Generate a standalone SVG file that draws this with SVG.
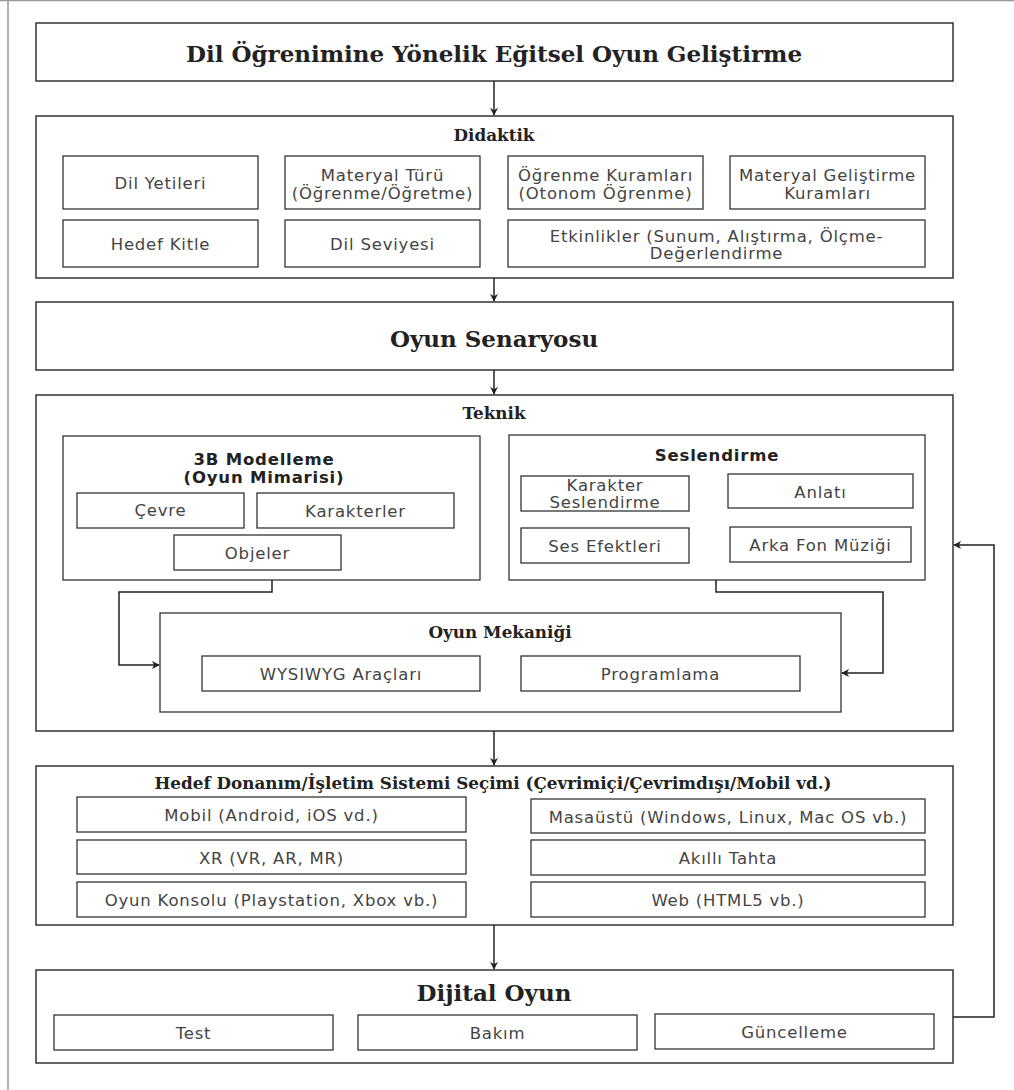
<svg xmlns="http://www.w3.org/2000/svg" width="1014" height="1090" viewBox="0 0 1014 1090">
<style>
.frame{fill:none;stroke:#999;stroke-width:1.5}
.box{fill:#fff;stroke:#333;stroke-width:1.5}
.inner{fill:#fff;stroke:#333;stroke-width:1.3}
.t{font-family:"DejaVu Sans",Verdana,sans-serif;font-size:16.5px;letter-spacing:0.8px;fill:#444;text-anchor:middle;dominant-baseline:central}
.tb{font-family:"DejaVu Sans",Verdana,sans-serif;font-size:16.5px;letter-spacing:0.8px;font-weight:bold;fill:#222;text-anchor:middle;dominant-baseline:central}
.h1{font-family:"DejaVu Serif",Georgia,serif;font-size:23px;font-weight:bold;fill:#222;text-anchor:middle;dominant-baseline:central}
.h2{font-family:"DejaVu Serif",Georgia,serif;font-size:16.8px;font-weight:bold;fill:#222;text-anchor:middle;dominant-baseline:central}
.conn{fill:none;stroke:#222;stroke-width:1.5}
</style>
<defs>
<marker id="arr" viewBox="0 0 10 10" refX="9" refY="5" markerWidth="8" markerHeight="8" markerUnits="userSpaceOnUse" orient="auto">
<path d="M0,0 L10,5 L0,10 L3,5 Z" fill="#222"/>
</marker>
</defs>
<rect width="1014" height="1090" fill="#fff"/>
<g id="frame">
<line class="frame" x1="0" y1="0.5" x2="1014" y2="0.5"/>
<line class="frame" x1="8" y1="0" x2="8" y2="1090"/>
</g>

<g id="title">
<rect class="box" x="36" y="23" width="917" height="58"/>
<text class="h1" x="494" y="53">Dil Öğrenimine Yönelik Eğitsel Oyun Geliştirme</text>
</g>

<g id="didaktik">
<rect class="box" x="36" y="116" width="917" height="162"/>
<text class="h2" x="494" y="135">Didaktik</text>
<g id="dil-yetileri"><rect class="inner" x="63" y="156" width="195" height="53"/><text class="t" x="160.5" y="183">Dil Yetileri</text></g>
<g id="materyal-turu"><rect class="inner" x="285" y="156" width="195" height="53"/><text class="t" x="382.5" y="175">Materyal Türü</text><text class="t" x="382.5" y="193">(Öğrenme/Öğretme)</text></g>
<g id="ogrenme-kuramlari"><rect class="inner" x="508" y="156" width="195" height="53"/><text class="t" x="605.5" y="175">Öğrenme Kuramları</text><text class="t" x="605.5" y="193">(Otonom Öğrenme)</text></g>
<g id="materyal-gelistirme"><rect class="inner" x="730" y="156" width="195" height="53"/><text class="t" x="827.5" y="175">Materyal Geliştirme</text><text class="t" x="827.5" y="193">Kuramları</text></g>
<g id="hedef-kitle"><rect class="inner" x="63" y="220" width="195" height="47"/><text class="t" x="160.5" y="244">Hedef Kitle</text></g>
<g id="dil-seviyesi"><rect class="inner" x="285" y="220" width="195" height="47"/><text class="t" x="382.5" y="244">Dil Seviyesi</text></g>
<g id="etkinlikler"><rect class="inner" x="508" y="220" width="417" height="47"/><text class="t" x="716.5" y="236">Etkinlikler (Sunum, Alıştırma, Ölçme-</text><text class="t" x="716.5" y="253">Değerlendirme</text></g>
</g>

<g id="senaryo">
<rect class="box" x="36" y="302" width="917" height="68"/>
<text class="h1" x="494" y="338">Oyun Senaryosu</text>
</g>

<g id="teknik">
<rect class="box" x="36" y="395" width="917" height="336"/>
<text class="h2" x="494" y="413">Teknik</text>
<g id="modelleme">
<rect class="inner" x="63" y="436" width="417" height="144"/>
<text class="tb" x="264" y="459">3B Modelleme</text>
<text class="tb" x="264" y="477">(Oyun Mimarisi)</text>
<g id="cevre"><rect class="inner" x="77" y="493" width="167" height="35"/><text class="t" x="160.5" y="510">Çevre</text></g>
<g id="karakterler"><rect class="inner" x="257" y="493" width="197" height="35"/><text class="t" x="355.5" y="511">Karakterler</text></g>
<g id="objeler"><rect class="inner" x="174" y="535" width="167" height="35"/><text class="t" x="257.5" y="553">Objeler</text></g>
</g>
<g id="seslendirme">
<rect class="inner" x="509" y="435" width="416" height="145"/>
<text class="tb" x="717" y="455">Seslendirme</text>
<g id="karakter-seslendirme"><rect class="inner" x="521" y="476" width="168" height="35"/><text class="t" x="605" y="485">Karakter</text><text class="t" x="605" y="502">Seslendirme</text></g>
<g id="anlati"><rect class="inner" x="728" y="474" width="185" height="34"/><text class="t" x="820.5" y="492">Anlatı</text></g>
<g id="ses-efektleri"><rect class="inner" x="521" y="528" width="168" height="35"/><text class="t" x="605" y="546">Ses Efektleri</text></g>
<g id="arka-fon"><rect class="inner" x="730" y="527" width="181" height="35"/><text class="t" x="820.5" y="545">Arka Fon Müziği</text></g>
</g>
<g id="mekanik">
<rect class="inner" x="160" y="613" width="681" height="99"/>
<text class="h2" x="500" y="632">Oyun Mekaniği</text>
<g id="wysiwyg"><rect class="inner" x="202" y="656" width="278" height="35"/><text class="t" x="341" y="674">WYSIWYG Araçları</text></g>
<g id="programlama"><rect class="inner" x="521" y="656" width="279" height="35"/><text class="t" x="660.5" y="674">Programlama</text></g>
</g>
</g>

<g id="hedef">
<rect class="box" x="36" y="766" width="917" height="159"/>
<text class="h2" x="493" y="783">Hedef Donanım/İşletim Sistemi Seçimi (Çevrimiçi/Çevrimdışı/Mobil vd.)</text>
<g id="mobil"><rect class="inner" x="77" y="797" width="389" height="35"/><text class="t" x="271.5" y="815">Mobil (Android, iOS vd.)</text></g>
<g id="xr"><rect class="inner" x="77" y="840" width="389" height="34"/><text class="t" x="271.5" y="858">XR (VR, AR, MR)</text></g>
<g id="konsol"><rect class="inner" x="77" y="882" width="389" height="35"/><text class="t" x="271.5" y="900">Oyun Konsolu (Playstation, Xbox vb.)</text></g>
<g id="masaustu"><rect class="inner" x="531" y="799" width="394" height="34"/><text class="t" x="728" y="817">Masaüstü (Windows, Linux, Mac OS vb.)</text></g>
<g id="akilli"><rect class="inner" x="531" y="840" width="394" height="35"/><text class="t" x="728" y="858">Akıllı Tahta</text></g>
<g id="web"><rect class="inner" x="531" y="882" width="394" height="35"/><text class="t" x="728" y="900">Web (HTML5 vb.)</text></g>
</g>

<g id="dijital">
<rect class="box" x="36" y="970" width="917" height="93"/>
<text class="h1" x="494" y="992">Dijital Oyun</text>
<g id="test"><rect class="inner" x="54" y="1015" width="279" height="35"/><text class="t" x="193.5" y="1033">Test</text></g>
<g id="bakim"><rect class="inner" x="358" y="1015" width="279" height="35"/><text class="t" x="497.5" y="1033">Bakım</text></g>
<g id="guncelleme"><rect class="inner" x="655" y="1014" width="279" height="35"/><text class="t" x="794.5" y="1032">Güncelleme</text></g>
</g>

<g id="connectors">
<path class="conn" d="M494,81 V115" marker-end="url(#arr)"/>
<path class="conn" d="M494,278 V301" marker-end="url(#arr)"/>
<path class="conn" d="M494,370 V394" marker-end="url(#arr)"/>
<path class="conn" d="M494,731 V765" marker-end="url(#arr)"/>
<path class="conn" d="M494,925 V969" marker-end="url(#arr)"/>
<path class="conn" d="M272,580 V592 H119 V665 H159" marker-end="url(#arr)"/>
<path class="conn" d="M716,580 V592 H883 V673 H842" marker-end="url(#arr)"/>
<path class="conn" d="M953,1017 H994 V545 H954" marker-end="url(#arr)"/>
</g>
</svg>
